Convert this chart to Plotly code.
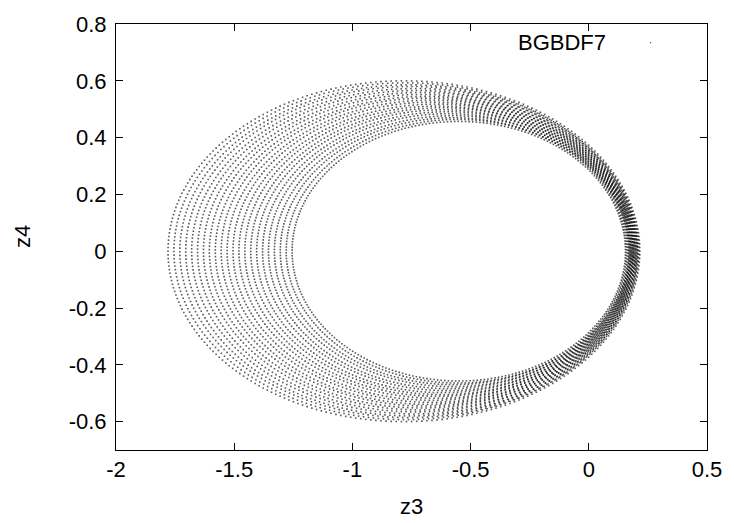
import numpy as np
import plotly.graph_objects as go

# ---- data (one closed ring of dots per entry) ----
ring_left = [-1.780, -1.755, -1.730, -1.705, -1.680, -1.655, -1.630, -1.605,
             -1.580, -1.555, -1.530, -1.505, -1.480, -1.455, -1.430, -1.405,
             -1.380, -1.355, -1.330, -1.305, -1.280, -1.255]
ring_right = [0.216, 0.205, 0.212, 0.198, 0.208, 0.193, 0.204, 0.188,
              0.200, 0.184, 0.196, 0.179, 0.191, 0.175, 0.187, 0.170,
              0.182, 0.165, 0.177, 0.160, 0.171, 0.155]
ring_halfheight = [0.600, 0.593, 0.586, 0.580, 0.573, 0.566, 0.559, 0.552,
                   0.545, 0.539, 0.532, 0.525, 0.518, 0.511, 0.505, 0.498,
                   0.491, 0.484, 0.477, 0.470, 0.464, 0.457]
points_per_ring = 290

x_tickvals = [-2, -1.5, -1, -0.5, 0, 0.5]
x_ticktext = ["-2", "-1.5", "-1", "-0.5", "0", "0.5"]
y_tickvals = [-0.6, -0.4, -0.2, 0, 0.2, 0.4, 0.6, 0.8]
y_ticktext = ["-0.6", "-0.4", "-0.2", "0", "0.2", "0.4", "0.6", "0.8"]
series_name = "BGBDF7"

# ---- build dot cloud from the ring outlines ----
xs, ys = [], []
for k, (l, r, h) in enumerate(zip(ring_left, ring_right, ring_halfheight)):
    c = (l + r) / 2.0
    a = (r - l) / 2.0
    t = np.linspace(0, 2 * np.pi, points_per_ring, endpoint=False) + 0.37 * k
    xs.append(c + a * np.cos(t))
    ys.append(h * np.sin(t))
xs = np.concatenate(xs)
ys = np.concatenate(ys)

FONT = "Liberation Sans, Arial, sans-serif"
FS = 22

fig = go.Figure()
fig.add_trace(go.Scatter(
    x=xs, y=ys, mode="markers", name=series_name, showlegend=False,
    marker=dict(symbol="square", size=1.6, color="rgba(0,0,0,0.65)", line=dict(width=0)),
    hoverinfo="skip",
))

axis_common = dict(
    showgrid=False, zeroline=False, showline=True, linecolor="black", linewidth=1,
    mirror="ticks", ticks="inside", ticklen=7, tickcolor="black", tickwidth=1,
    tickfont=dict(family=FONT, size=FS, color="black"),
)

fig.update_layout(
    width=734, height=523,
    margin=dict(l=116, r=20, t=18, b=73),
    paper_bgcolor="white", plot_bgcolor="white",
    xaxis=dict(range=[-2, 0.5], tickvals=x_tickvals, ticktext=x_ticktext,
               ticklabelstandoff=0, **axis_common),
    yaxis=dict(range=[-0.7, 0.8], tickvals=y_tickvals, ticktext=y_ticktext,
               ticklabelstandoff=4, **axis_common),
    annotations=[
        dict(text="z3", xref="paper", yref="paper", x=0.5, y=(450 - 507) / 432,
             xanchor="center", yanchor="middle", showarrow=False,
             font=dict(family=FONT, size=FS, color="black")),
        dict(text="z4", xref="paper", yref="paper", x=(21 - 116) / 598, y=0.5,
             xanchor="center", yanchor="middle", showarrow=False, textangle=-90,
             font=dict(family=FONT, size=FS, color="black")),
        dict(text=series_name, xref="paper", yref="paper", x=(614 - 116) / 598,
             y=(450 - 37) / 432, xanchor="right", yanchor="middle", showarrow=False,
             font=dict(family=FONT, size=FS, color="black")),
    ],
    shapes=[
        dict(type="rect", xref="paper", yref="paper",
             x0=(656.5 - 116) / 598, x1=(657.5 - 116) / 598,
             y0=(450 - 37.5) / 432, y1=(450 - 36.5) / 432,
             fillcolor="black", line=dict(width=0)),
    ],
)

fig.write_html("out.html")
